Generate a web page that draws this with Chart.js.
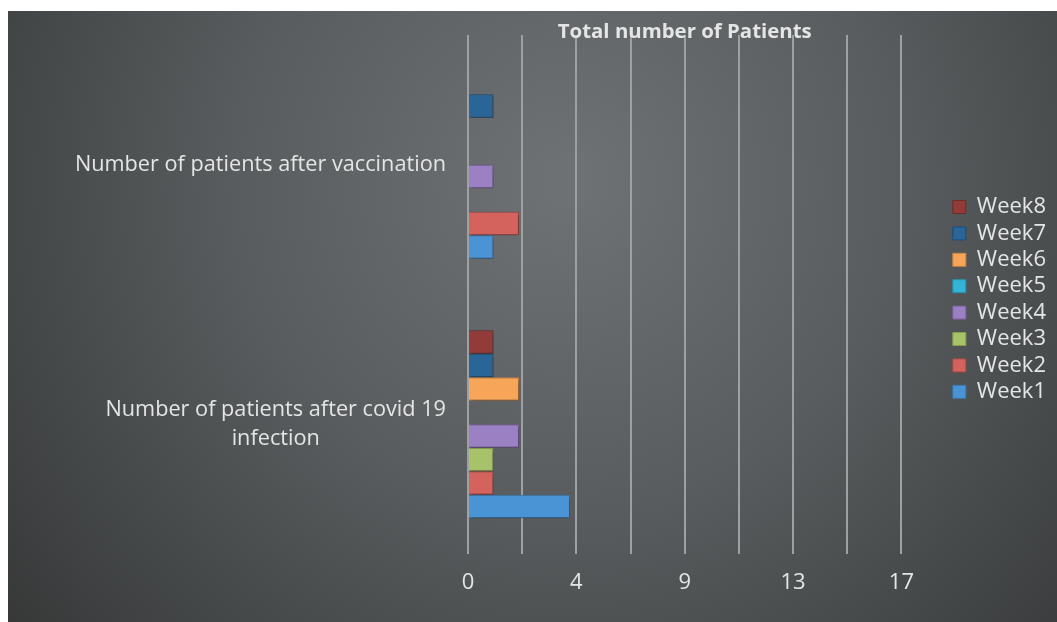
<!DOCTYPE html>
<html>
<head>
<meta charset="utf-8">
<script src="https://cdn.jsdelivr.net/npm/chart.js@4/dist/chart.umd.min.js"></script>
<style>
  body { margin: 0; background: #fff; }
  #wrap { position: absolute; left: 8px; top: 11px; width: 1049px; height: 611px; }
</style>
</head>
<body>
<div id="wrap"><canvas id="chartPacientes"></canvas></div>
<script>
// === dados ===
const categories = [
  ['Number of patients after vaccination'],
  ['Number of patients after covid 19', 'infection']
];
const weeks = ['Week1', 'Week2', 'Week3', 'Week4', 'Week5', 'Week6', 'Week7', 'Week8'];
const vaccinationValues = [1, 2, 0, 1, 0, 0, 1, 0];
const covidValues = [4, 1, 1, 2, 0, 2, 1, 1];
const weekColors = ['#4a94d6', '#d4625d', '#a8c26a', '#9b80c4', '#33b4d6', '#f7a558', '#2a6598', '#923b38'];
const weekBorders = ['#3a78b0', '#a84a46', '#86a050', '#7a62a0', '#2690ac', '#d08540', '#1e4e78', '#6e2a28'];
const xTickLabels = ['0', '4', '9', '13', '17'];
const chartTitle = 'Total number of Patients';

const FONT = '"Open Sans", Lato, sans-serif';
const TEXT = '#e4e6e6';

// Excel lists the series bottom-up, so Week8 goes first
const datasets = weeks.map((w, i) => ({
  label: w,
  data: [vaccinationValues[i], covidValues[i]],
  backgroundColor: weekColors[i],
  borderColor: weekBorders[i],
  borderWidth: 1
})).reverse();

// fundo com degradê
const bgPlugin = {
  id: 'bg',
  beforeDraw(chart) {
    const { ctx, width, height } = chart;
    const g = ctx.createRadialGradient(560, 170, 20, 560, 170, 720);
    g.addColorStop(0, '#6d7174');
    g.addColorStop(0.45, '#585c5e');
    g.addColorStop(1, '#363838');
    ctx.save();
    ctx.fillStyle = g;
    ctx.fillRect(0, 0, width, height);
    ctx.restore();
  },
  beforeDatasetsDraw(chart) {
    const c = chart.ctx;
    c.save();
    c.shadowColor = 'rgba(0,0,0,0.35)';
    c.shadowBlur = 4;
    c.shadowOffsetX = 2;
    c.shadowOffsetY = 2;
  },
  afterDatasetsDraw(chart) {
    chart.ctx.restore();
  }
};

// rótulos das categorias e título (alinhados como no Excel)
const textPlugin = {
  id: 'texts',
  afterDraw(chart) {
    const { ctx, chartArea, scales } = chart;
    ctx.save();
    ctx.fillStyle = TEXT;
    ctx.textBaseline = 'middle';
    ctx.font = '21.7px ' + FONT;
    const right = chartArea.left - 22;
    categories.forEach((lines, i) => {
      const cy = scales.y.getPixelForValue(i);
      const lh = 29;
      const y0 = cy - (lines.length - 1) * lh / 2;
      const w0 = ctx.measureText(lines[0]).width;
      const cx = right - w0 / 2;
      ctx.textAlign = 'center';
      lines.forEach((t, j) => ctx.fillText(t, cx, y0 + j * lh));
    });
    ctx.font = 'bold 20.4px ' + FONT;
    ctx.textAlign = 'center';
    ctx.fillText(chartTitle, (chartArea.left + chartArea.right) / 2, chartArea.top - 3);
    ctx.restore();
  }
};

const ctx = document.getElementById('chartPacientes');
new Chart(ctx, {
  type: 'bar',
  data: { labels: categories.map(c => c.join(' ')), datasets },
  plugins: [bgPlugin, textPlugin],
  options: {
    indexAxis: 'y',
    responsive: true,
    maintainAspectRatio: false,
    animation: false,
    layout: { padding: { top: 24, right: 1 } },
    datasets: { bar: { barPercentage: 1, categoryPercentage: 0.725 } },
    scales: {
      y: {
        display: true,
        grid: { display: false },
        border: { display: false },
        ticks: { display: false },
        afterFit(s) { s.width = 460; }
      },
      gap: {
        type: 'category',
        axis: 'y',
        position: 'right',
        grid: { display: false },
        border: { display: false },
        ticks: { display: false },
        afterFit(s) { s.width = 47; }
      },
      x: {
        min: 0,
        max: 17,
        grid: { color: '#9da1a3', lineWidth: 2, drawTicks: false },
        border: { display: false },
        ticks: {
          stepSize: 17 / 8,
          padding: 16,
          color: TEXT,
          font: { family: FONT, size: 22 },
          callback: (v, i) => (i % 2 === 0 ? xTickLabels[i / 2] : '')
        },
        afterFit(s) { s.height = 68; }
      }
    },
    plugins: {
      title: { display: false },
      tooltip: { enabled: false },
      legend: {
        position: 'right',
        fullSize: false,
        title: { display: true, text: '', font: { size: 4 }, padding: 2.5 },
        labels: {
          boxWidth: 13,
          boxHeight: 13,
          padding: 4.4,
          color: TEXT,
          font: { family: FONT, size: 22 }
        }
      }
    }
  }
});
</script>
</body>
</html>
